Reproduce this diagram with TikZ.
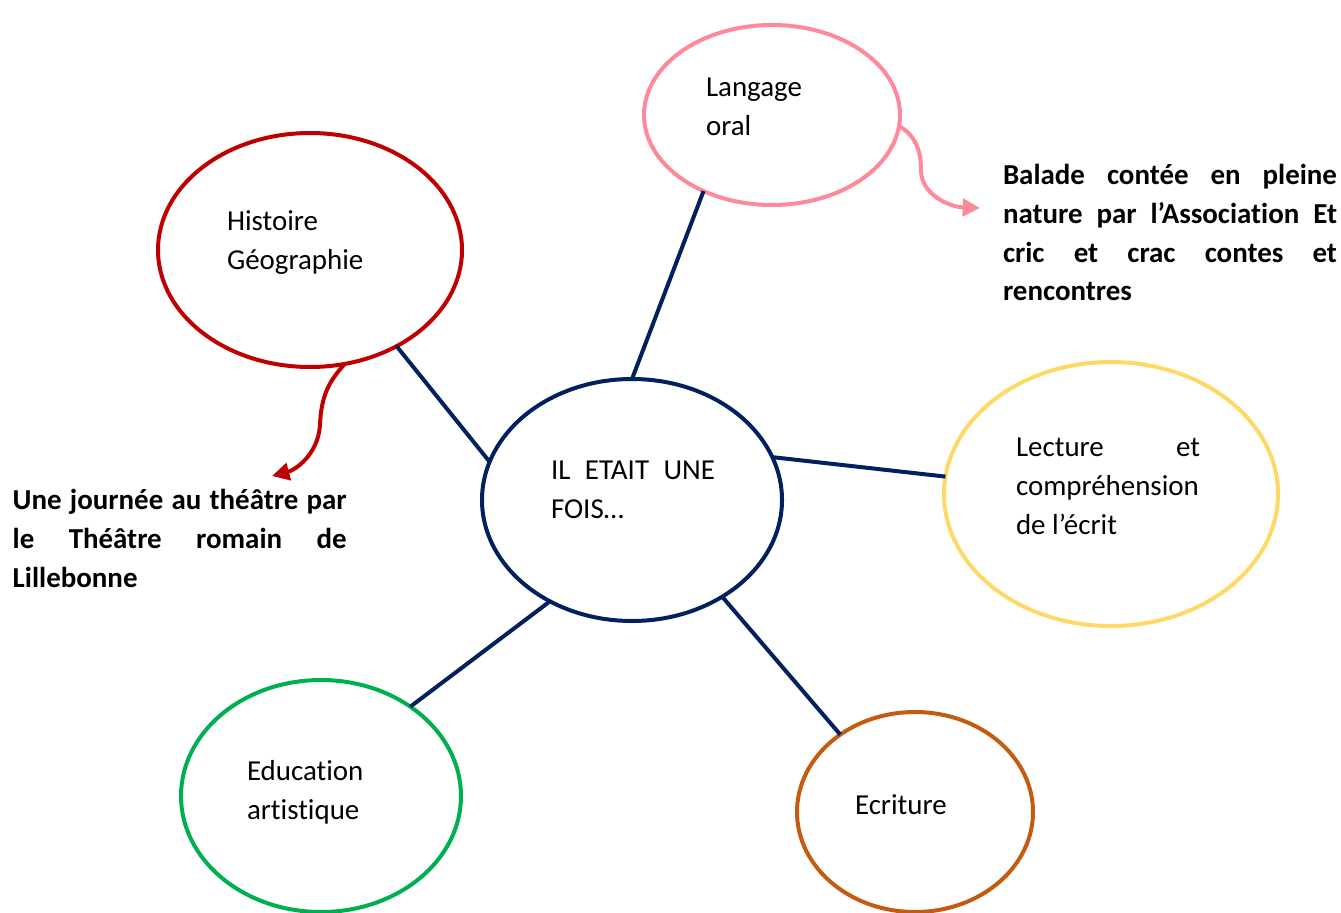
\documentclass[tikz,border=0pt]{standalone}
\usepackage{fontspec}
\setmainfont[RawFeature={-liga;-clig;-calt;-dlig}]{Carlito}
\usetikzlibrary{shapes.geometric,arrows.meta}
\definecolor{pinkc}{RGB}{255,137,153}
\definecolor{redc}{RGB}{192,0,0}
\definecolor{navyc}{RGB}{0,32,96}
\definecolor{yellowc}{RGB}{255,217,102}
\definecolor{greenc}{RGB}{0,176,80}
\definecolor{orangec}{RGB}{197,90,17}
\begin{document}
\begin{tikzpicture}[x=0.75pt,y=-0.75pt,
  bubble/.style={ellipse, draw, line width=3pt, inner sep=0pt, outer sep=0pt},
  link/.style={draw=navyc, line width=3pt},
  txt/.style={anchor=north west, inner sep=0pt, outer sep=0pt, align=left, font=\fontsize{21.7}{28.9}\selectfont},
  note/.style={txt, font=\fontsize{21.7}{28.9}\selectfont\bfseries},
  callout/.style={line width=3pt, -{Triangle[length=13pt,width=13pt]}}]
\useasboundingbox (0,0) rectangle (1341,913);
% bubbles
\node[bubble, draw=pinkc, minimum width=192pt, minimum height=135pt] (lang) at (772,115) {};
\node[bubble, draw=redc, minimum width=228pt, minimum height=175.5pt] (hist) at (310,250) {};
\node[bubble, draw=navyc, minimum width=225pt, minimum height=181.5pt] (ctr) at (632,500) {};
\node[bubble, draw=yellowc, minimum width=250.5pt, minimum height=198pt] (lect) at (1111,494) {};
\node[bubble, draw=greenc, minimum width=210pt, minimum height=174pt] (educ) at (321,796) {};
\node[bubble, draw=orangec, minimum width=177pt, minimum height=150pt] (ecr) at (915,812) {};
% texts
\node[txt] (langT) at (706,70) {\strut Langage\\oral};
\node[txt] (histT) at (227,204) {\strut Histoire\\Géographie};
\node[txt] (ctrT) at (551,453) {\strut\makebox[123pt][s]{IL ETAIT UNE}\\FOIS…};
\node[txt] (lectT) at (1016,430) {\strut\makebox[138pt][s]{Lecture et}\\compréhension\\de l’écrit};
\node[txt] (educT) at (247,754) {\strut Educat\kern0pt ion\\art\kern0pt ist\kern0pt ique};
\node[txt] (ecrT) at (855,788) {\strut Ecriture};
\node[note] (balade) at (1003,158) {\strut\makebox[250.5pt][s]{Balade contée en pleine}\\\makebox[250.5pt][s]{nature par l’Associat\kern0pt ion Et}\\\makebox[250.5pt][s]{cric et crac contes et}\\rencontres};
\node[note] (theatre) at (12.7,483) {\strut\makebox[250.5pt][s]{Une journée au théâtre par}\\\makebox[250.5pt][s]{le Théâtre romain de}\\Lillebonne};
% connectors
\draw[link] (ctr.north) -- (lang.228);
\draw[link] (ctr.165) -- (hist.-48);
\draw[link] (ctr.17.5) -- (lect.174);
\draw[link] (ctr.231) -- (educ.45.7);
\draw[link] (ctr.-47) -- (ecr.134);
% callout arrows
\coordinate (pinktip) at (980,208);
\coordinate (redtip) at (272,476);
\draw[callout, pinkc] (lang.-5) .. controls (915,135) and (921,150) .. (921,170) .. controls (921,195) and (950,207) .. (pinktip);
\draw[callout, redc] (hist.-73) .. controls (330,380) and (321,395) .. (320,425) .. controls (318,455) and (295,470) .. (redtip);
\end{tikzpicture}
\end{document}
